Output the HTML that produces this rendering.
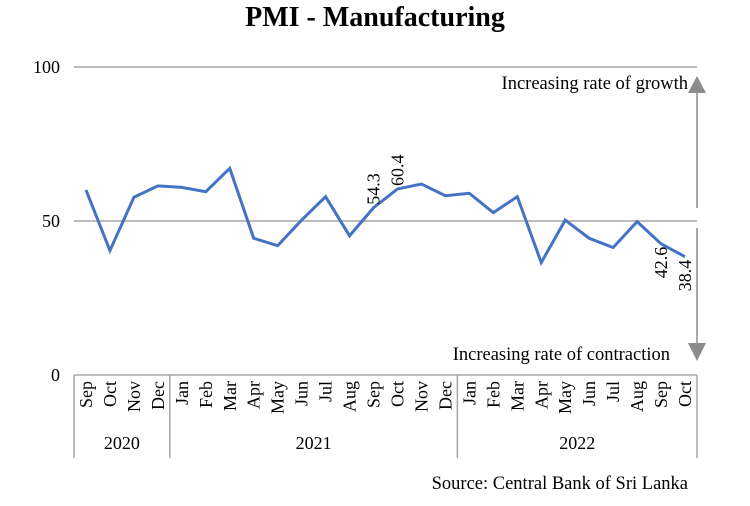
<!DOCTYPE html>
<html><head><meta charset="utf-8"><style>
body{margin:0;background:#fff;}
svg{display:block;font-family:"Liberation Serif",serif;}
</style></head><body>
<svg width="750" height="506" viewBox="0 0 750 506">
<text x="375" y="26" text-anchor="middle" font-size="28" font-weight="bold" fill="#000">PMI - Manufacturing</text>
<g id="grid"></g>
<g id="axis"></g>
<g id="series"></g>
<text x="688" y="89" text-anchor="end" font-size="18.5">Increasing rate of growth</text>
<text x="670" y="360" text-anchor="end" font-size="18.5">Increasing rate of contraction</text>
<line x1="697" y1="92" x2="697" y2="208" stroke="#8c8c8c" stroke-width="1.5"/>
<polygon points="688,93 706,93 697,76" fill="#8c8c8c"/>
<line x1="697" y1="228" x2="697" y2="345" stroke="#8c8c8c" stroke-width="1.5"/>
<polygon points="688,343 706,343 697,361" fill="#8c8c8c"/>
<text x="688" y="489" text-anchor="end" font-size="18.5">Source: Central Bank of Sri Lanka</text>
</svg>
<script>
const months=["Sep","Oct","Nov","Dec","Jan","Feb","Mar","Apr","May","Jun","Jul","Aug","Sep","Oct","Nov","Dec","Jan","Feb","Mar","Apr","May","Jun","Jul","Aug","Sep","Oct"];
const values=[60.1,40.4,57.7,61.4,60.9,59.5,67.1,44.4,42.0,50.3,57.9,45.2,54.3,60.4,62.0,58.2,59.0,52.7,57.9,36.5,50.3,44.4,41.4,49.8,42.6,38.4];
const years=["2020","2021","2022"];
const yearCounts=[4,12,10];
const yTicks=[0,50,100];
const labeled=[12,13,24,25];
const NS="http://www.w3.org/2000/svg";
const X0=74,X1=697,Y0=375,Y100=67;
const bw=(X1-X0)/months.length;
const xs=i=>X0+bw*(i+0.5);
const ys=v=>Y0-(v/100)*(Y0-Y100);
function mk(t,a,p){const e=document.createElementNS(NS,t);for(const k in a)e.setAttribute(k,a[k]);p.appendChild(e);return e;}
const grid=document.getElementById('grid'),axis=document.getElementById('axis'),ser=document.getElementById('series');
yTicks.forEach(v=>{
  if(v>0){const l=mk('line',{x1:X0,x2:X1,y1:ys(v),y2:ys(v),stroke:'#a6a6a6','stroke-width':1.5},grid);
  
  }
  const t=mk('text',{x:X0-14,y:ys(v)+6,'text-anchor':'end','font-size':18},grid);t.textContent=v;
  
  
});
const ax=mk('line',{x1:X0,x2:X1,y1:Y0,y2:Y0,stroke:'#a6a6a6','stroke-width':1.5},axis);


months.forEach((m,i)=>{
  const t=mk('text',{transform:`translate(${xs(i)+6},${Y0+6}) rotate(-90)`,'text-anchor':'end','font-size':18},axis);t.textContent=m;
  
  
});
let start=0;
const sep=[0];
yearCounts.forEach(c=>{start+=c;sep.push(start);});
sep.forEach(s=>{const l=mk('line',{x1:X0+s*bw,x2:X0+s*bw,y1:Y0,y2:458,stroke:'#a6a6a6','stroke-width':1.5},axis);
  
  });
years.forEach((y,k)=>{const cx=X0+(sep[k]+sep[k+1])/2*bw;
  const t=mk('text',{x:cx,y:449,'text-anchor':'middle','font-size':18},axis);t.textContent=y;
  
  });
const pl=mk('polyline',{points:values.map((v,i)=>xs(i)+','+ys(v)).join(' '),fill:'none',stroke:'#4472c4','stroke-width':3,'stroke-linejoin':'miter'},ser);


labeled.forEach(i=>{
  const v=values[i];const above=i<20;
  const x=xs(i)+6,y=above?ys(v)-3:ys(v)+3;
  const t=mk('text',{transform:`translate(${x},${y}) rotate(-90)`,'text-anchor':above?'start':'end','font-size':18},ser);
  t.textContent=v.toFixed(1);
  
  
});
</script>
</body></html>
